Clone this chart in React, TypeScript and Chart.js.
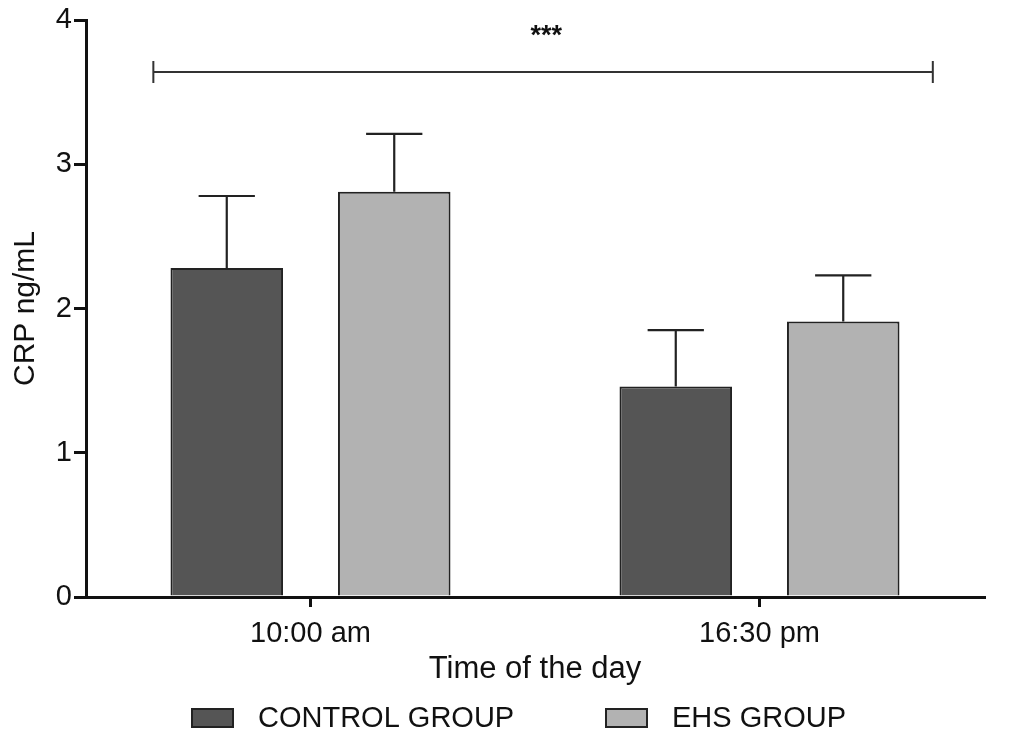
import React, { useEffect, useRef } from "react";
import { Chart, registerables } from "chart.js";

Chart.register(...registerables);

// ---- data ----
const categories = ["10:00 am", "16:30 pm"];
const seriesNames = ["CONTROL GROUP", "EHS GROUP"];
const controlMeans = [2.28, 1.46];
const controlErr = [0.5, 0.39];
const ehsMeans = [2.81, 1.91];
const ehsErr = [0.4, 0.32];
const yTickValues = [0, 1, 2, 3, 4];
const bracketX = [-0.35, 1.386]; // in category-index units
const bracketY = 3.64;
const starsX = 0.525;
const starsY = 3.945;
const starsText = "***";
const yTitle = "CRP ng/mL";
const xTitle = "Time of the day";

const seriesColors = ["#555555", "#b2b2b2"];
const FONT = "Arial, 'Liberation Sans', sans-serif";

const errorArrays = [controlErr, ehsErr];
const meanArrays = [controlMeans, ehsMeans];

const overlayPlugin = {
  id: "overlay",
  afterDatasetsDraw(chart: any) {
    const ctx = chart.ctx;
    const yScale = chart.scales.y;
    const xScale = chart.scales.x;
    ctx.save();
    // error bars (upper only)
    chart.data.datasets.forEach((ds: any, di: number) => {
      const meta = chart.getDatasetMeta(di);
      meta.data.forEach((el: any, i: number) => {
        const top = yScale.getPixelForValue(meanArrays[di][i] + errorArrays[di][i]);
        const half = el.width / 4;
        ctx.strokeStyle = "#222";
        ctx.lineWidth = 2.2;
        ctx.beginPath();
        ctx.moveTo(el.x, el.y);
        ctx.lineTo(el.x, top);
        ctx.moveTo(el.x - half, top);
        ctx.lineTo(el.x + half, top);
        ctx.stroke();
      });
    });
    // significance bracket
    const bx0 = xScale.getPixelForValue(bracketX[0]);
    const bx1 = xScale.getPixelForValue(bracketX[1]);
    const by = yScale.getPixelForValue(bracketY);
    ctx.strokeStyle = "#333";
    ctx.lineWidth = 2;
    ctx.beginPath();
    ctx.moveTo(bx0, by);
    ctx.lineTo(bx1, by);
    ctx.moveTo(bx0, by - 11);
    ctx.lineTo(bx0, by + 11);
    ctx.moveTo(bx1, by - 11);
    ctx.lineTo(bx1, by + 11);
    ctx.stroke();
    ctx.fillStyle = "#111";
    ctx.font = `bold 27px ${FONT}`;
    ctx.textAlign = "center";
    ctx.textBaseline = "alphabetic";
    ctx.fillText(starsText, xScale.getPixelForValue(starsX), yScale.getPixelForValue(starsY) + 16);
    ctx.restore();
  },
  afterDraw(chart: any) {
    const ctx = chart.ctx;
    const left = chart.chartArea.left;
    ctx.save();
    const y = 718;
    const starts = [left + 106, left + 520];
    seriesNames.forEach((name, i) => {
      const x = starts[i];
      ctx.fillStyle = seriesColors[i];
      ctx.fillRect(x, y - 9, 41, 18);
      ctx.strokeStyle = "#222";
      ctx.lineWidth = 2;
      ctx.strokeRect(x, y - 9, 41, 18);
      ctx.fillStyle = "#111";
      ctx.font = `29px ${FONT}`;
      ctx.textAlign = "left";
      ctx.textBaseline = "middle";
      ctx.fillText(name, x + 66, y + 1);
    });
    ctx.restore();
  },
};

export default function App() {
  const ref = useRef<HTMLCanvasElement>(null);
  useEffect(() => {
    document.body.style.margin = "0";
    const canvas = ref.current!;
    const chart = new Chart(canvas, {
      type: "bar",
      data: {
        labels: categories,
        datasets: [
          {
            label: seriesNames[0],
            data: controlMeans,
            backgroundColor: seriesColors[0],
            borderColor: "#222",
            borderWidth: 2,
            categoryPercentage: 0.746,
            barPercentage: 0.672,
          },
          {
            label: seriesNames[1],
            data: ehsMeans,
            backgroundColor: seriesColors[1],
            borderColor: "#222",
            borderWidth: 2,
            categoryPercentage: 0.746,
            barPercentage: 0.672,
          },
        ],
      },
      options: {
        responsive: false,
        animation: false,
        devicePixelRatio: 1,
        layout: { padding: { left: 0, top: 20, right: 30, bottom: 54 } },
        plugins: {
          legend: { display: false },
          tooltip: { enabled: false },
        },
        scales: {
          y: {
            min: 0,
            max: 4,
            afterFit: (s: any) => {
              s.width = 86;
            },
            afterBuildTicks: (s: any) => {
              s.ticks = yTickValues.map((v) => ({ value: v }));
            },
            ticks: {
              color: "#111",
              font: { family: FONT, size: 29 },
              padding: 2,
            },
            grid: {
              display: true,
              drawOnChartArea: false,
              drawTicks: true,
              tickLength: 12,
              color: "#111",
              lineWidth: 3,
            },
            border: { display: true, color: "#111", width: 3 },
            title: {
              display: true,
              text: yTitle,
              color: "#111",
              font: { family: FONT, size: 30 },
              padding: { top: 8, bottom: 0 },
            },
          },
          x: {
            afterFit: (s: any) => {
              s.height = 91;
            },
            ticks: {
              color: "#111",
              font: { family: FONT, size: 29 },
              padding: 10,
            },
            grid: {
              display: true,
              offset: false,
              drawOnChartArea: false,
              drawTicks: true,
              tickLength: 10,
              color: "#111",
              lineWidth: 3,
            },
            border: { display: true, color: "#111", width: 3 },
            title: {
              display: true,
              text: xTitle,
              color: "#111",
              font: { family: FONT, size: 31 },
              padding: { top: 0, bottom: 0 },
            },
          },
        },
      },
      plugins: [overlayPlugin],
    } as any);
    return () => chart.destroy();
  }, []);
  return (
    <div style={{ width: 1014, height: 742, background: "#fff" }}>
      <canvas ref={ref} width={1014} height={742} style={{ display: "block" }} />
    </div>
  );
}
